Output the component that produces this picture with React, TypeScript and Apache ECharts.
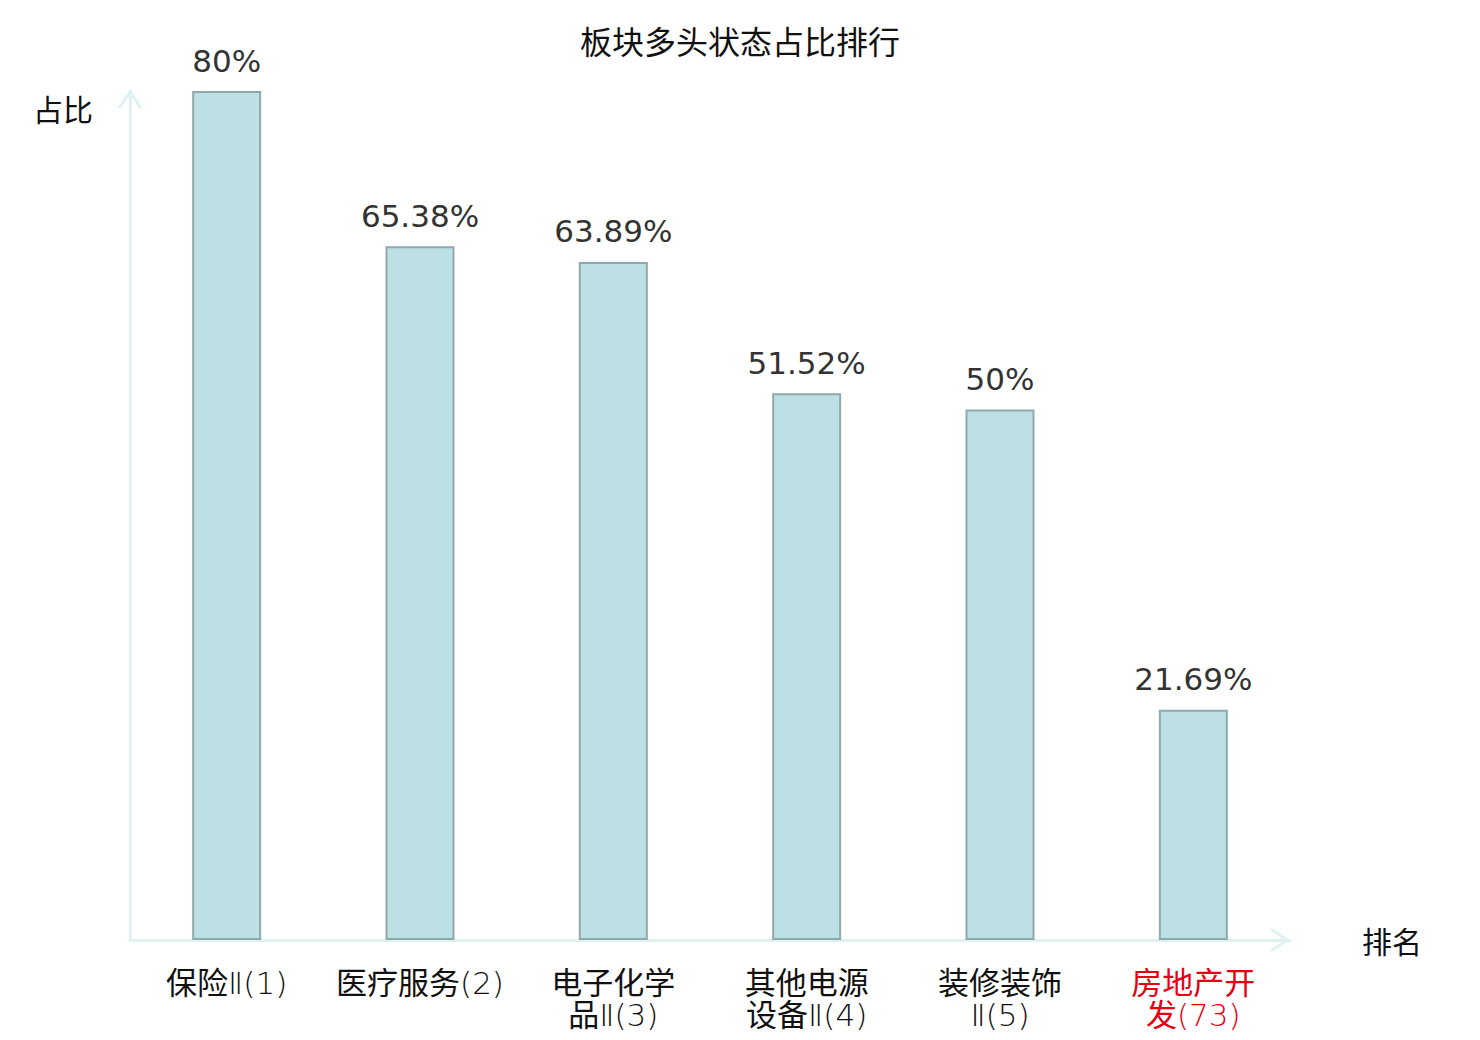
import React, { useEffect, useRef } from "react";
import * as echarts from "echarts";

const sectorNames = ["保险Ⅱ", "医疗服务", "电子化学品Ⅱ", "其他电源设备Ⅱ", "装修装饰Ⅱ", "房地产开发"];
const ranks = [1, 2, 3, 4, 5, 73];
const ratios = [80, 65.38, 63.89, 51.52, 50, 21.69];
const highlightIndex = 5;

function wrapName(name: string, rank: number): string {
  const chunks: string[] = [];
  for (let i = 0; i < name.length; i += 4) chunks.push(name.slice(i, i + 4));
  return chunks.join("\n") + "(" + rank + ")";
}

const chevron = "path://M12,0 L24,18 L21.6,19.6 L12,5.2 L2.4,19.6 L0,18 Z";
const CJK = "Noto Sans CJK SC";

export default function App() {
  const ref = useRef<HTMLDivElement>(null);
  useEffect(() => {
    document.body.style.margin = "0";
    const chart = echarts.init(ref.current!, undefined, { renderer: "svg" });
    const categories = sectorNames.map((n, i) => {
      const label = wrapName(n, ranks[i]);
      return i === highlightIndex ? { value: label, textStyle: { color: "#e60012" } } : label;
    });
    chart.setOption({
      animation: false,
      backgroundColor: "#ffffff",
      title: {
        text: "板块多头状态占比排行",
        left: "center",
        top: 19,
        textStyle: { fontSize: 32, fontWeight: "normal", color: "#111", fontFamily: CJK },
      },
      grid: { left: 130, right: 190, top: 91, bottom: 100 },
      xAxis: {
        type: "category",
        data: categories,
        name: "排名",
        nameLocation: "end",
        nameGap: 72,
        nameTextStyle: { fontSize: 30, color: "#111", fontFamily: CJK },
        axisLine: {
          show: true,
          symbol: ["none", chevron],
          symbolSize: [24, 20],
          symbolOffset: [0, -10],
          lineStyle: { color: "#dff2ef", width: 3 },
        },
        axisTick: { show: false },
        axisLabel: {
          fontSize: 31,
          lineHeight: 32,
          color: "#111",
          margin: 27,
          interval: 0,
          fontWeight: "normal",
          fontFamily: "'DejaVu Sans Light', 'Noto Sans CJK SC'",
        },
        splitLine: { show: false },
      },
      yAxis: {
        type: "value",
        min: 0,
        max: 80,
        name: "占比",
        nameLocation: "end",
        nameGap: -32,
        nameTextStyle: { fontSize: 30, color: "#111", align: "right", padding: [0, 37, 0, 0], fontFamily: CJK },
        axisLine: {
          show: true,
          symbol: ["none", chevron],
          symbolSize: [24, 20],
          symbolOffset: [0, -8],
          lineStyle: { color: "#dff2ef", width: 3 },
        },
        axisTick: { show: false },
        axisLabel: { show: false },
        splitLine: { show: false },
      },
      series: [
        {
          type: "bar",
          data: ratios,
          barWidth: 69,
          itemStyle: { color: "#bce0e3", borderColor: "#8fa9ab", borderWidth: 2 },
          label: {
            show: true,
            position: "top",
            distance: 15,
            fontSize: 31,
            fontFamily: "DejaVu Sans",
            color: "#333",
            formatter: (p: any) => p.value + "%",
          },
        },
      ],
    });
    return () => chart.dispose();
  }, []);
  return <div ref={ref} style={{ width: 1480, height: 1040 }} />;
}
